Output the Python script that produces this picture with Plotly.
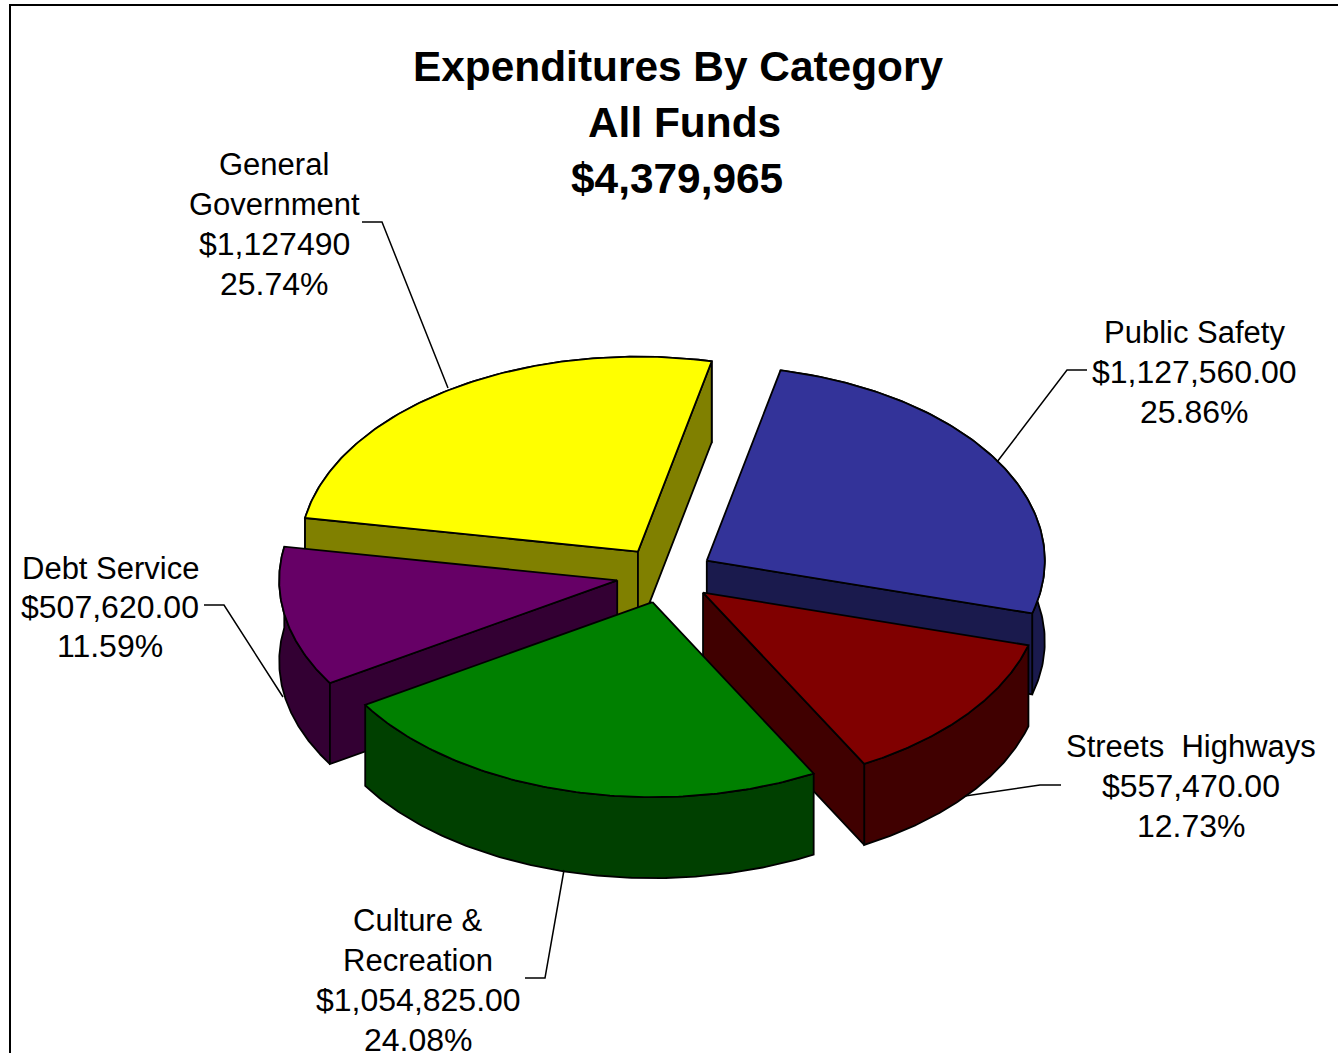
import numpy as np
import plotly.graph_objects as go

# ---- data (clockwise from the top of the pie) ----
categories = ["General Government", "Public Safety", "Streets  Highways",
              "Culture & Recreation", "Debt Service"]
amount_labels = ["$1,127490", "$1,127,560.00", "$557,470.00", "$1,054,825.00", "$507,620.00"]
percents = [25.74, 25.86, 12.73, 24.08, 11.59]
top_colors = ["#FFFF00", "#333399", "#800000", "#008000", "#660066"]
side_colors = ["#808000", "#1A1A4D", "#400000", "#004000", "#330033"]
label_lines = [["General", "Government"], ["Public Safety"], ["Streets  Highways"],
               ["Culture &", "Recreation"], ["Debt Service"]]
title_lines = ["Expenditures By Category", "All Funds", "$4,379,965"]

# ---- layout geometry, in page pixels ----
W, H = 1338, 1053
CX, CY = 665, 575      # pie centre
RX, RY = 338, 195      # tilted ellipse radii
DEPTH = 81             # pie thickness
EXPLODE = 0.144
START = 12.6 - 25.74 * 3.6   # first slice start angle, degrees clockwise from top
PAINT_ORDER = [0, 1, 4, 2, 3]
FONT = "Liberation Sans"
TITLE_POS = [(678, 66), (684, 122), (677, 178)]
LABEL_POS = [(274, 164), (1194, 332), (1191, 746), (418, 920), (110, 568)]
LINE_STEP = [40, 40, 40, 40, 39]
LEADERS = [[(362, 222), (382, 222), (448, 388)],
           [(1087, 370), (1067, 370), (997, 462)],
           [(1061, 785), (1040, 785), (965, 796)],
           [(525, 978), (545, 978), (564, 870)],
           [(204, 605), (224, 605), (283, 697)]]

fig = go.Figure()


def poly(xs, ys, color):
    fig.add_trace(go.Scatter(
        x=list(xs), y=list(ys), mode="lines", fill="toself", fillcolor=color,
        line=dict(color="black", width=1.8), hoverinfo="skip", showlegend=False))


ends = np.cumsum([0] + percents) * 3.6 + START
for i in PAINT_ORDER:
    a0, a1 = np.radians(ends[i]), np.radians(ends[i + 1])
    mid = (a0 + a1) / 2
    ax = CX + EXPLODE * RX * np.sin(mid)
    ay = CY - EXPLODE * RY * np.cos(mid)
    t = np.linspace(a0, a1, 120)
    ex = ax + RX * np.sin(t)
    ey = ay - RY * np.cos(t)
    # outer wall
    poly(np.r_[ex, ex[::-1], ex[0]], np.r_[ey, ey[::-1] + DEPTH, ey[0]], side_colors[i])
    # cut faces that turn toward the viewer
    if np.sin(a0) < 0:
        poly([ax, ex[0], ex[0], ax, ax], [ay, ey[0], ey[0] + DEPTH, ay + DEPTH, ay], side_colors[i])
    if np.sin(a1) > 0:
        poly([ax, ex[-1], ex[-1], ax, ax], [ay, ey[-1], ey[-1] + DEPTH, ay + DEPTH, ay], side_colors[i])
    # top face
    poly(np.r_[ax, ex, ax], np.r_[ay, ey, ay], top_colors[i])

for pts in LEADERS:
    fig.add_trace(go.Scatter(x=[p[0] for p in pts], y=[p[1] for p in pts], mode="lines",
                             line=dict(color="black", width=1.5), hoverinfo="skip", showlegend=False))

annotations = []
for text, (x, y) in zip(title_lines, TITLE_POS):
    annotations.append(dict(x=x, y=y, text=f"<b>{text}</b>", showarrow=False, xref="x", yref="y",
                            xanchor="center", yanchor="middle",
                            font=dict(family=FONT, size=42.4, color="black")))
for i in range(len(categories)):
    names = label_lines[i]
    lines = names + [amount_labels[i], f"{percents[i]:.2f}%"]
    x, y = LABEL_POS[i]
    for k, text in enumerate(lines):
        annotations.append(dict(x=x, y=y + k * LINE_STEP[i], text=text, showarrow=False, xref="x", yref="y",
                                xanchor="center", yanchor="middle",
                                font=dict(family=FONT, size=31 if k < len(names) else 32, color="black")))

frame = dict(type="rect", xref="x", yref="y", x0=10, y0=5, x1=W + 20, y1=H + 20,
             line=dict(color="black", width=2), fillcolor="rgba(0,0,0,0)", layer="below")

fig.update_layout(
    width=W, height=H, margin=dict(l=0, r=0, t=0, b=0),
    paper_bgcolor="white", plot_bgcolor="white", showlegend=False,
    xaxis=dict(range=[0, W], visible=False, fixedrange=True),
    yaxis=dict(range=[H, 0], visible=False, fixedrange=True),
    annotations=annotations, shapes=[frame],
)
fig.write_html("out.html", config={"displayModeBar": False},
               post_script="document.body.style.margin='0';")
